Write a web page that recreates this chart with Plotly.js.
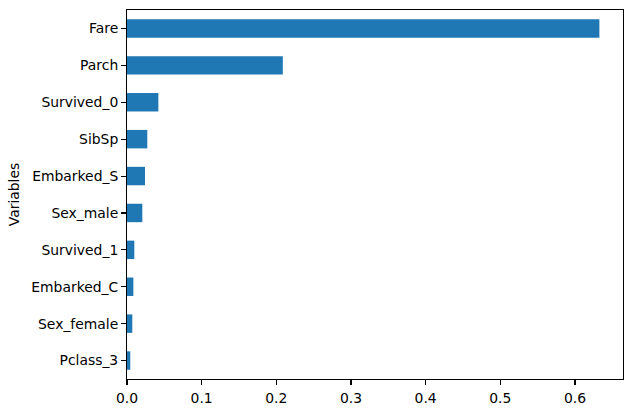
<!DOCTYPE html>
<html>
<head>
<meta charset="utf-8">
<script src="https://cdn.plot.ly/plotly-3.0.1.min.js"></script>
<style>html,body{margin:0;padding:0;background:#fff;}#chart{width:632px;height:413px;}</style>
</head>
<body>
<div id="chart"></div>
<script>
const variables = ["Fare", "Parch", "Survived_0", "SibSp", "Embarked_S", "Sex_male", "Survived_1", "Embarked_C", "Sex_female", "Pclass_3"];
const importance = [0.6327, 0.2087, 0.0420, 0.0272, 0.0241, 0.0205, 0.0098, 0.0085, 0.0071, 0.0044];
const xTicks = [0, 0.1, 0.2, 0.3, 0.4, 0.5, 0.6];
const xTickLabels = ["0.0", "0.1", "0.2", "0.3", "0.4", "0.5", "0.6"];

const font = {family: "DejaVu Sans", size: 13.9, color: "#000"};
const xmax = Math.max(...importance) * 1.05;

Plotly.newPlot("chart", [{
  type: "bar",
  orientation: "h",
  y: variables,
  x: importance,
  width: 0.5,
  marker: {color: "#1f77b4", line: {width: 0}},
  hoverinfo: "x+y"
}], {
  width: 632,
  height: 413,
  margin: {l: 127, r: 9, t: 10, b: 34, pad: 0},
  paper_bgcolor: "#fff",
  plot_bgcolor: "#fff",
  font: font,
  showlegend: false,
  xaxis: {
    range: [0, xmax],
    tickmode: "array",
    tickvals: xTicks,
    ticktext: xTickLabels,
    ticks: "outside",
    ticklen: 4.9,
    tickwidth: 1.1,
    tickcolor: "#000",
    ticklabelstandoff: 1,
    showgrid: false,
    zeroline: false,
    showline: true,
    linecolor: "#000",
    linewidth: 1.1,
    mirror: true,
    tickfont: font
  },
  yaxis: {
    type: "category",
    range: [variables.length - 0.5, -0.5],
    ticks: "outside",
    ticklen: 4.9,
    tickwidth: 1.1,
    tickcolor: "#000",
    showgrid: false,
    zeroline: false,
    showline: true,
    linecolor: "#000",
    linewidth: 1.1,
    mirror: true,
    tickfont: font,
    title: {text: "Variables", font: font, standoff: 8}
  }
}, {displayModeBar: false, staticPlot: true});
</script>
</body>
</html>
